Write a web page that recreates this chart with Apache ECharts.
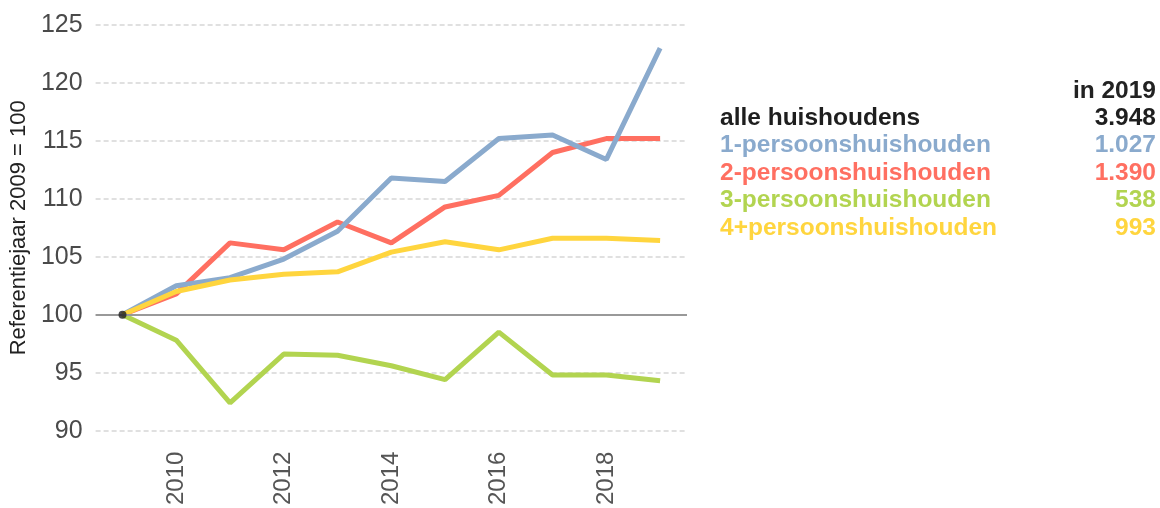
<!DOCTYPE html>
<html>
<head>
<meta charset="utf-8">
<script src="https://cdn.jsdelivr.net/npm/echarts@6/dist/echarts.min.js"></script>
<style>
  html, body { margin: 0; padding: 0; background: #fff; }
  #chart { width: 1160px; height: 508px; }
</style>
</head>
<body>
<div id="chart"></div>
<script>
// jaren en indexcijfers (2009 = 100)
const years = ['2009', '2010', '2011', '2012', '2013', '2014', '2015', '2016', '2017', '2018', '2019'];
const shownYears = ['2010', '2012', '2014', '2016', '2018'];
const alleHuishoudens = [100];
const eenPersoons = [100, 102.5, 103.2, 104.8, 107.2, 111.8, 111.5, 115.2, 115.5, 113.4, 123.0];
const tweePersoons = [100, 101.8, 106.2, 105.6, 108.0, 106.2, 109.3, 110.3, 114.0, 115.2, 115.2];
const driePersoons = [100, 97.8, 92.4, 96.6, 96.5, 95.6, 94.4, 98.5, 94.8, 94.8, 94.3];
const vierPlusPersoons = [100, 102.0, 103.0, 103.5, 103.7, 105.4, 106.3, 105.6, 106.6, 106.6, 106.4];
const yTicks = [90, 95, 100, 105, 110, 115, 120, 125];

// legenda rechts
const legendTitle = 'in 2019';
const legendNames = ['alle huishoudens', '1-persoonshuishouden', '2-persoonshuishouden', '3-persoonshuishouden', '4+persoonshuishouden'];
const legendValues = ['3.948', '1.027', '1.390', '538', '993'];

const colors = {
  alle: '#1e1e1e',
  een: '#8aaacd',
  twee: '#ff6f61',
  drie: '#b2d450',
  vier: '#ffd53e'
};
const legendColors = [colors.alle, colors.een, colors.twee, colors.drie, colors.vier];

const FONT = '"Liberation Sans", Arial, sans-serif';

const myChart = echarts.init(document.getElementById('chart'));

function lineSeries(name, data, color, z) {
  return {
    name: name,
    type: 'line',
    data: data,
    symbol: 'none',
    z: z,
    lineStyle: { color: color, width: 5 },
    itemStyle: { color: color },
    emphasis: { disabled: true }
  };
}

const rowY = [118, 145.5, 173, 200.5, 228];
const graphics = [{
  type: 'text',
  x: 1156,
  y: 91,
  style: { text: legendTitle, fill: '#222', font: 'bold 24.5px ' + FONT, align: 'right', verticalAlign: 'middle' }
}];
legendNames.forEach(function (n, i) {
  graphics.push({
    type: 'text',
    x: 720,
    y: rowY[i],
    style: { text: n, fill: legendColors[i], font: 'bold 24.5px ' + FONT, align: 'left', verticalAlign: 'middle' }
  });
  graphics.push({
    type: 'text',
    x: 1156,
    y: rowY[i],
    style: { text: legendValues[i], fill: legendColors[i], font: 'bold 24.5px ' + FONT, align: 'right', verticalAlign: 'middle' }
  });
});

const option = {
  animation: false,
  backgroundColor: '#fff',
  grid: { left: 95, right: 473, top: 25, bottom: 74 },
  xAxis: {
    type: 'category',
    data: years,
    boundaryGap: true,
    axisLine: { show: false },
    axisTick: { show: false },
    axisLabel: {
      rotate: 90,
      margin: 21,
      color: '#555',
      fontFamily: FONT,
      fontSize: 24,
      interval: function (idx, val) { return shownYears.indexOf(val) !== -1; }
    }
  },
  yAxis: {
    type: 'value',
    min: yTicks[0],
    max: yTicks[yTicks.length - 1],
    interval: 5,
    name: 'Referentiejaar 2009 = 100',
    nameLocation: 'middle',
    nameGap: 63,
    nameTextStyle: { color: '#222', fontFamily: FONT, fontSize: 22 },
    axisLine: { show: false },
    axisTick: { show: false },
    axisLabel: { color: '#4a4a4a', fontFamily: FONT, fontSize: 25, margin: 13 },
    splitLine: { lineStyle: { color: '#d6d6d6', width: 1.5, type: [5, 3] } }
  },
  series: [
    Object.assign(lineSeries('2-persoonshuishouden', tweePersoons, colors.twee, 2), {
      markLine: {
        silent: true,
        symbol: 'none',
        label: { show: false },
        lineStyle: { color: '#999', width: 2, type: 'solid' },
        data: [{ yAxis: 100 }]
      }
    }),
    lineSeries('1-persoonshuishouden', eenPersoons, colors.een, 3),
    lineSeries('4+persoonshuishouden', vierPlusPersoons, colors.vier, 4),
    lineSeries('3-persoonshuishouden', driePersoons, colors.drie, 4),
    {
      name: 'alle huishoudens',
      type: 'scatter',
      data: alleHuishoudens,
      symbolSize: 8,
      z: 10,
      itemStyle: { color: colors.alle },
      emphasis: { disabled: true }
    }
  ],
  graphic: graphics
};

myChart.setOption(option);
</script>
</body>
</html>
